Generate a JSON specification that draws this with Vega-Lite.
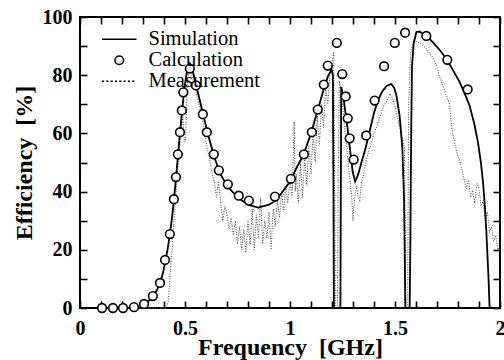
{
  "$schema": "https://vega.github.io/schema/vega-lite/v6.json",
  "width": 420,
  "height": 291,
  "autosize": "none",
  "padding": {"left": 80, "top": 17, "right": 4, "bottom": 52},
  "background": "white",
  "config": {
    "view": {"stroke": "black", "strokeWidth": 2},
    "font": "Liberation Serif",
    "axis": {
      "domain": false,
      "grid": false,
      "ticks": true,
      "tickSize": 7,
      "offset": -7,
      "tickWidth": 1.6,
      "tickColor": "black",
      "tickOpacity": 1,
      "labelFont": "Liberation Serif",
      "labelFontWeight": "bold",
      "labelFontSize": 20,
      "labelColor": "black",
      "titleFont": "Liberation Serif",
      "titleFontWeight": "bold",
      "titleFontSize": 24,
      "titleColor": "black"
    }
  },
  "datasets": {
    "sim": [
      {"f":0,"e":0},{"f":0.28,"e":0},{"f":0.305,"e":1.2},{"f":0.33,"e":2.6},{"f":0.347,"e":4},{"f":0.365,"e":6},{"f":0.381,"e":8.5},{"f":0.395,"e":12},{"f":0.405,"e":15.5},{"f":0.418,"e":20.5},{"f":0.428,"e":25.5},{"f":0.438,"e":31},{"f":0.447,"e":37},{"f":0.457,"e":44.5},{"f":0.466,"e":52},{"f":0.476,"e":60},{"f":0.485,"e":67},{"f":0.495,"e":74},{"f":0.505,"e":79.5},{"f":0.515,"e":83},{"f":0.523,"e":84},{"f":0.532,"e":83},{"f":0.545,"e":79},{"f":0.56,"e":74.5},{"f":0.585,"e":67},{"f":0.61,"e":59.5},{"f":0.637,"e":52.5},{"f":0.665,"e":46.5},{"f":0.7,"e":42},{"f":0.75,"e":38},{"f":0.8,"e":35.5},{"f":0.848,"e":34.5},{"f":0.9,"e":35.5},{"f":0.93,"e":36.8},{"f":0.96,"e":39.5},{"f":1.0,"e":43.5},{"f":1.03,"e":48},{"f":1.066,"e":53},{"f":1.1,"e":60},{"f":1.13,"e":67.5},{"f":1.16,"e":75},{"f":1.18,"e":79.5},{"f":1.198,"e":82},{"f":1.204,"e":80},{"f":1.207,"e":40},{"f":1.209,"e":0},{"f":1.24,"e":0},{"f":1.242,"e":40},{"f":1.244,"e":76},{"f":1.255,"e":72},{"f":1.27,"e":64},{"f":1.285,"e":55},{"f":1.298,"e":47},{"f":1.31,"e":43.5},{"f":1.325,"e":46},{"f":1.34,"e":50},{"f":1.36,"e":55},{"f":1.38,"e":61},{"f":1.4,"e":67},{"f":1.42,"e":71.5},{"f":1.44,"e":74.5},{"f":1.46,"e":76.3},{"f":1.483,"e":77},{"f":1.497,"e":75.5},{"f":1.507,"e":73},{"f":1.522,"e":66},{"f":1.535,"e":55},{"f":1.543,"e":37.7},{"f":1.546,"e":20.6},{"f":1.549,"e":1},{"f":1.55,"e":0},{"f":1.569,"e":0},{"f":1.57,"e":1},{"f":1.573,"e":20.5},{"f":1.575,"e":43},{"f":1.578,"e":66},{"f":1.581,"e":83},{"f":1.589,"e":91},{"f":1.602,"e":94.8},{"f":1.617,"e":95},{"f":1.65,"e":93.5},{"f":1.681,"e":91.3},{"f":1.715,"e":88.5},{"f":1.745,"e":85.6},{"f":1.778,"e":81.5},{"f":1.808,"e":77.6},{"f":1.833,"e":73.5},{"f":1.855,"e":69.6},{"f":1.877,"e":63.5},{"f":1.895,"e":57},{"f":1.909,"e":50},{"f":1.919,"e":43.3},{"f":1.928,"e":35},{"f":1.935,"e":26.2},{"f":1.941,"e":17},{"f":1.946,"e":9},{"f":1.95,"e":1},{"f":1.951,"e":0},{"f":2.0,"e":0}
    ],
    "calc": [
      {"f":0.105,"e":0},{"f":0.157,"e":0},{"f":0.205,"e":0},{"f":0.257,"e":0.3},{"f":0.305,"e":1.4},{"f":0.347,"e":4.1},{"f":0.381,"e":8.6},{"f":0.405,"e":16.5},{"f":0.428,"e":25.4},{"f":0.447,"e":37.4},{"f":0.457,"e":45},{"f":0.466,"e":52.8},{"f":0.476,"e":60.4},{"f":0.485,"e":67.9},{"f":0.492,"e":74.1},{"f":0.523,"e":82.3},{"f":0.552,"e":76.5},{"f":0.585,"e":66.6},{"f":0.604,"e":60.4},{"f":0.637,"e":52.8},{"f":0.661,"e":47.3},{"f":0.704,"e":42.5},{"f":0.756,"e":38.6},{"f":0.804,"e":36.9},{"f":0.928,"e":38.3},{"f":1.004,"e":44.4},{"f":1.066,"e":52.8},{"f":1.104,"e":60.4},{"f":1.132,"e":68.2},{"f":1.161,"e":76.8},{"f":1.18,"e":83.3},{"f":1.223,"e":91.1},{"f":1.249,"e":80.4},{"f":1.265,"e":72.7},{"f":1.275,"e":65.2},{"f":1.284,"e":58.3},{"f":1.303,"e":51},{"f":1.363,"e":59.3},{"f":1.403,"e":71.3},{"f":1.448,"e":83.1},{"f":1.499,"e":91.1},{"f":1.548,"e":94.6},{"f":1.649,"e":93.5},{"f":1.749,"e":85.3},{"f":1.846,"e":75.1}
    ],
    "meas": [
      {"f":0,"e":0},{"f":0.41,"e":0},{"f":0.42,"e":2},{"f":0.43,"e":12},{"f":0.44,"e":22},{"f":0.45,"e":32},{"f":0.46,"e":42},{"f":0.47,"e":52},{"f":0.48,"e":60},{"f":0.49,"e":66},{"f":0.497,"e":57},{"f":0.503,"e":58},{"f":0.51,"e":76},{"f":0.52,"e":83},{"f":0.53,"e":81},{"f":0.54,"e":78},{"f":0.55,"e":75},{"f":0.56,"e":72},{"f":0.58,"e":66},{"f":0.6,"e":57},{"f":0.62,"e":50},{"f":0.63,"e":46},{"f":0.64,"e":43},{"f":0.65,"e":38},{"f":0.66,"e":44},{"f":0.67,"e":36},{"f":0.68,"e":30},{"f":0.69,"e":35},{"f":0.7,"e":32},{"f":0.71,"e":27},{"f":0.72,"e":31},{"f":0.73,"e":25},{"f":0.74,"e":30},{"f":0.75,"e":22},{"f":0.76,"e":28},{"f":0.77,"e":20},{"f":0.78,"e":27},{"f":0.79,"e":19},{"f":0.8,"e":30},{"f":0.81,"e":22},{"f":0.82,"e":34},{"f":0.83,"e":20},{"f":0.84,"e":32},{"f":0.85,"e":24},{"f":0.86,"e":38},{"f":0.87,"e":22},{"f":0.88,"e":30},{"f":0.89,"e":24},{"f":0.9,"e":33},{"f":0.91,"e":20},{"f":0.92,"e":34},{"f":0.93,"e":28},{"f":0.94,"e":37},{"f":0.95,"e":31},{"f":0.96,"e":40},{"f":0.97,"e":33},{"f":0.98,"e":42},{"f":0.99,"e":36},{"f":1.0,"e":44},{"f":1.01,"e":38},{"f":1.02,"e":64},{"f":1.025,"e":40},{"f":1.03,"e":46},{"f":1.04,"e":36},{"f":1.05,"e":50},{"f":1.06,"e":38},{"f":1.07,"e":52},{"f":1.08,"e":42},{"f":1.09,"e":56},{"f":1.1,"e":46},{"f":1.11,"e":60},{"f":1.12,"e":50},{"f":1.13,"e":66},{"f":1.14,"e":56},{"f":1.15,"e":70},{"f":1.16,"e":62},{"f":1.17,"e":76},{"f":1.18,"e":70},{"f":1.19,"e":80},{"f":1.2,"e":84},{"f":1.208,"e":88},{"f":1.213,"e":40},{"f":1.216,"e":0},{"f":1.226,"e":0},{"f":1.23,"e":50},{"f":1.235,"e":78},{"f":1.245,"e":74},{"f":1.255,"e":66},{"f":1.262,"e":60},{"f":1.27,"e":56},{"f":1.276,"e":50},{"f":1.285,"e":44},{"f":1.293,"e":39},{"f":1.3,"e":30},{"f":1.305,"e":36},{"f":1.316,"e":42},{"f":1.325,"e":38},{"f":1.332,"e":37},{"f":1.34,"e":43},{"f":1.348,"e":45},{"f":1.36,"e":50},{"f":1.38,"e":55},{"f":1.4,"e":60},{"f":1.411,"e":62},{"f":1.43,"e":66},{"f":1.443,"e":69},{"f":1.46,"e":71},{"f":1.475,"e":73.6},{"f":1.49,"e":72},{"f":1.51,"e":66},{"f":1.53,"e":60},{"f":1.545,"e":55},{"f":1.552,"e":0},{"f":1.56,"e":0},{"f":1.565,"e":70},{"f":1.575,"e":88},{"f":1.59,"e":92},{"f":1.62,"e":91},{"f":1.65,"e":89},{"f":1.68,"e":86},{"f":1.7,"e":83},{"f":1.71,"e":80},{"f":1.725,"e":77},{"f":1.74,"e":74},{"f":1.76,"e":70},{"f":1.77,"e":62},{"f":1.78,"e":58},{"f":1.79,"e":55},{"f":1.8,"e":52},{"f":1.81,"e":50},{"f":1.83,"e":44},{"f":1.84,"e":41},{"f":1.85,"e":44},{"f":1.86,"e":38},{"f":1.87,"e":40},{"f":1.88,"e":36},{"f":1.89,"e":43},{"f":1.9,"e":41},{"f":1.91,"e":35},{"f":1.92,"e":37},{"f":1.93,"e":30},{"f":1.94,"e":33},{"f":1.95,"e":26},{"f":1.96,"e":28},{"f":1.97,"e":23},{"f":1.98,"e":25},{"f":1.99,"e":20},{"f":2.0,"e":21}
    ]
  },
  "resolve": {"axis": {"x": "independent", "y": "independent"}},
  "layer": [
    {
      "data": {"name": "meas"},
      "mark": {"type": "line", "color": "#555555", "strokeWidth": 1.1, "strokeDash": [1, 1.5]},
      "encoding": {
        "x": {"field": "f", "type": "quantitative", "scale": {"domain": [0, 2], "nice": false, "zero": false}, "axis": null},
        "y": {"field": "e", "type": "quantitative", "scale": {"domain": [0, 100], "nice": false}, "axis": null}
      }
    },
    {
      "data": {"name": "sim"},
      "mark": {"type": "line", "color": "black", "strokeWidth": 1.8},
      "encoding": {
        "x": {"field": "f", "type": "quantitative", "axis": {
          "orient": "bottom",
          "title": "Frequency\u00a0 [GHz]",
          "values": [0,0.1,0.2,0.3,0.4,0.5,0.6,0.7,0.8,0.9,1,1.1,1.2,1.3,1.4,1.5,1.6,1.7,1.8,1.9,2],
          "labelExpr": "abs(datum.value*2 - round(datum.value*2)) < 0.001 ? format(datum.value, '~g') : ''",
          "labelPadding": 10,
          "labelFlush": false,
          "titlePadding": -3
        }},
        "y": {"field": "e", "type": "quantitative", "axis": {
          "orient": "left",
          "title": "Efficiency\u00a0 [%]",
          "values": [0,10,20,30,40,50,60,70,80,90,100],
          "labelExpr": "datum.value % 20 === 0 ? datum.label : ''",
          "labelPadding": 8,
          "titlePadding": 6
        }}
      }
    },
    {
      "data": {"name": "calc"},
      "transform": [{"calculate": "'Calculation'", "as": "series"}],
      "mark": {"type": "point", "shape": "circle", "size": 75, "stroke": "black", "strokeWidth": 1.6, "fill": "white", "filled": false, "opacity": 1},
      "encoding": {
        "x": {"field": "f", "type": "quantitative", "axis": {
          "orient": "top",
          "title": null,
          "labels": false,
          "values": [0,0.1,0.2,0.3,0.4,0.5,0.6,0.7,0.8,0.9,1,1.1,1.2,1.3,1.4,1.5,1.6,1.7,1.8,1.9,2]
        }},
        "y": {"field": "e", "type": "quantitative", "axis": {
          "orient": "right",
          "title": null,
          "labels": false,
          "values": [0,10,20,30,40,50,60,70,80,90,100]
        }},
        "shape": {
          "field": "series",
          "type": "nominal",
          "scale": {
            "domain": ["Simulation", "Calculation", "Measurement"],
            "range": ["M-4,0H4", "circle", "M-4,0H-3.5M-3,0H-2.5M-2,0H-1.5M-1,0H-0.5M0,0H0.5M1,0H1.5M2,0H2.5M3,0H3.5"]
          },
          "legend": {
            "title": null,
            "orient": "none",
            "legendX": 29,
            "legendY": 12,
            "padding": 0,
            "symbolSize": 75,
            "labelOffset": 19,
            "labelFont": "Liberation Serif",
            "labelFontSize": 20.5,
            "labelColor": "black",
            "rowPadding": 0,
            "encode": {
              "symbols": {"update": {
                "stroke": [{"test": "datum.value === 'Measurement'", "value": "#999999"}, {"value": "black"}],
                "strokeWidth": [{"test": "datum.value === 'Measurement'", "value": 1}, {"value": 1.7}],
                "fill": {"value": "white"},
                "opacity": {"value": 1}
              }}
            }
          }
        }
      }
    }
  ]
}
